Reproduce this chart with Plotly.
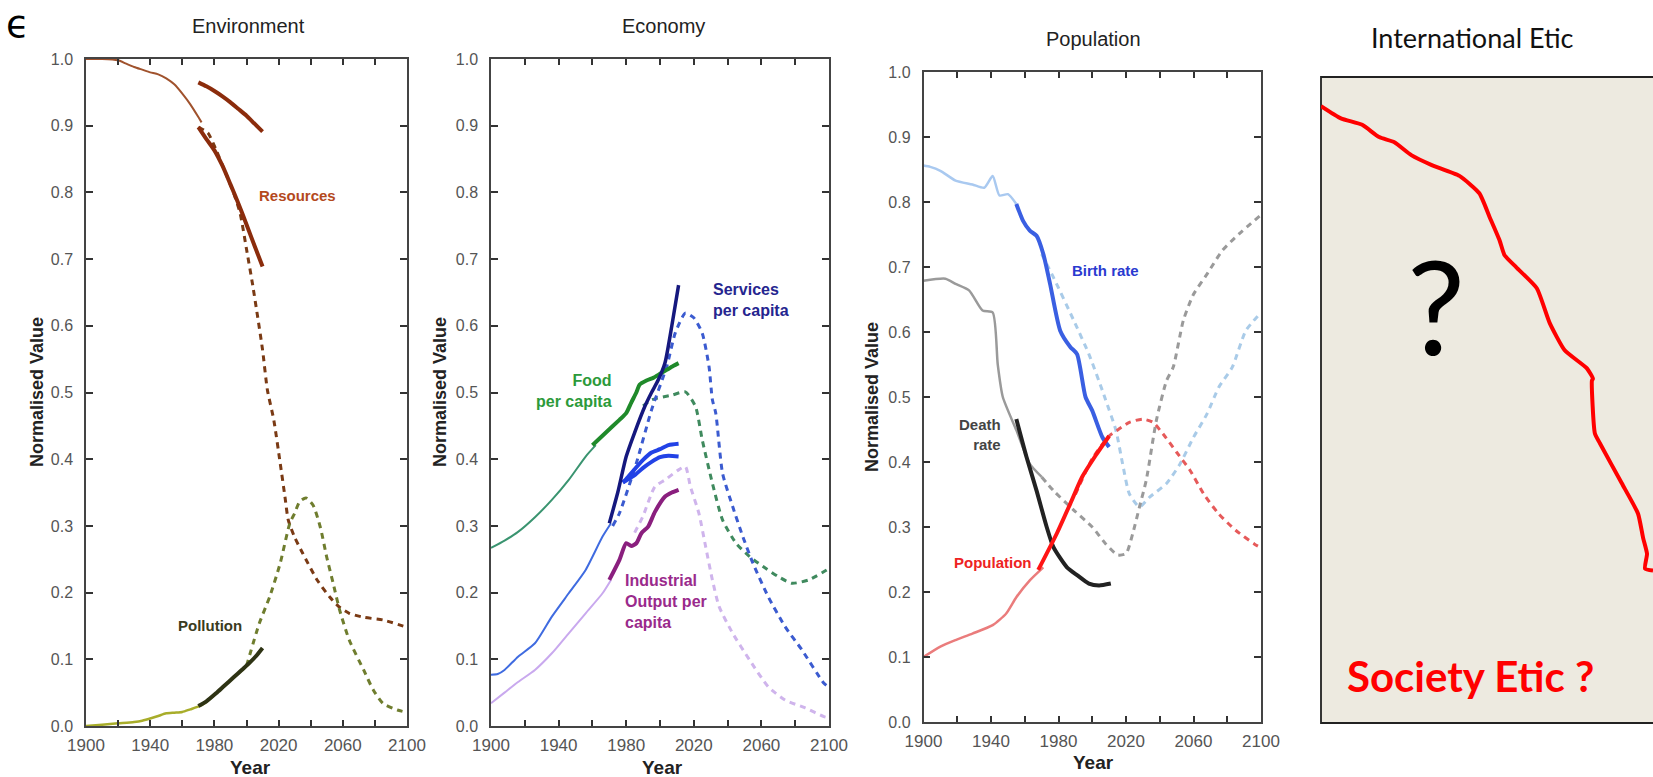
import plotly.graph_objects as go

W, H = 1653, 777

# ---------------- Environment ----------------
res_model_yr = [1900, 1910, 1920, 1925, 1930, 1935, 1940, 1945, 1950, 1955, 1960, 1965, 1970, 1972]
res_model_v = [1.0, 1.0, 0.998, 0.993, 0.988, 0.984, 0.98, 0.977, 0.971, 0.962, 0.948, 0.932, 0.913, 0.905]
res_dataA_yr = [1970, 1975, 1980, 1985, 1990, 1995, 2000, 2005, 2010]
res_dataA_v = [0.965, 0.959, 0.952, 0.944, 0.935, 0.925, 0.915, 0.903, 0.891]
res_dataB_yr = [1970, 1975, 1980, 1985, 1990, 1995, 2000, 2005, 2010]
res_dataB_v = [0.898, 0.88, 0.863, 0.84, 0.812, 0.783, 0.752, 0.72, 0.689]
res_proj_yr = [1970, 1976, 1981, 1986, 1992, 1996, 2000, 2004, 2010, 2013, 2017, 2021, 2024, 2026, 2030,
               2035, 2044, 2052, 2058, 2064, 2073, 2085, 2100]
res_proj_v = [0.898, 0.889, 0.864, 0.835, 0.799, 0.769, 0.715, 0.659, 0.564, 0.504, 0.459, 0.394, 0.343,
              0.309, 0.283, 0.259, 0.219, 0.193, 0.178, 0.169, 0.163, 0.159, 0.148]
pol_model_yr = [1900, 1910, 1920, 1930, 1935, 1941, 1945, 1950, 1955, 1960, 1965, 1971, 1976, 1981, 1986, 1992, 1997, 2002]
pol_model_v = [0.0, 0.002, 0.004, 0.006, 0.008, 0.012, 0.015, 0.019, 0.02, 0.021, 0.025, 0.03, 0.038, 0.049,
               0.06, 0.073, 0.083, 0.094]
pol_data_yr = [1970, 1975, 1981, 1986, 1992, 1997, 2002, 2006, 2010]
pol_data_v = [0.03, 0.037, 0.049, 0.06, 0.073, 0.084, 0.095, 0.105, 0.117]
pol_proj_yr = [2000, 2008, 2014.5, 2021, 2027, 2030, 2033, 2037, 2041.5, 2046, 2050, 2054, 2058, 2064,
               2073, 2079, 2085, 2094, 2099]
pol_proj_v = [0.09, 0.154, 0.194, 0.244, 0.304, 0.319, 0.336, 0.342, 0.331, 0.298, 0.253, 0.214, 0.174,
              0.129, 0.084, 0.054, 0.034, 0.024, 0.021]

# ---------------- Economy ----------------
food_model_yr = [1900, 1908, 1916, 1926, 1936, 1946, 1956, 1962]
food_model_v = [0.267, 0.278, 0.291, 0.313, 0.339, 0.369, 0.404, 0.421]
food_data_yr = [1960, 1968, 1976, 1980, 1983, 1986, 1988, 1992, 1996, 2000, 2004, 2008, 2011]
food_data_v = [0.421, 0.44, 0.459, 0.469, 0.485, 0.5, 0.512, 0.518, 0.522, 0.528, 0.534, 0.54, 0.544]
food_proj_yr = [1990, 1995, 2007, 2015, 2021, 2025, 2031, 2037, 2045, 2053, 2061, 2070, 2078, 2088, 2100]
food_proj_v = [0.48, 0.489, 0.496, 0.501, 0.479, 0.429, 0.364, 0.309, 0.274, 0.254, 0.239, 0.224, 0.214,
               0.219, 0.236]
svc_model_yr = [1900, 1904, 1908, 1916, 1926, 1936, 1946, 1956, 1966, 1971]
svc_model_v = [0.077, 0.078, 0.084, 0.104, 0.124, 0.164, 0.199, 0.234, 0.284, 0.304]
svc_data_yr = [1970, 1975, 1980, 1985, 1991, 1995, 1999, 2003, 2007, 2011]
svc_data_v = [0.304, 0.35, 0.404, 0.44, 0.479, 0.5, 0.519, 0.545, 0.6, 0.661]
svc_proj_yr = [1972, 1976, 1986, 1995, 2004, 2009, 2015, 2020, 2025, 2029, 2031, 2033, 2037, 2043, 2049,
               2055, 2064, 2074, 2084, 2097, 2100]
svc_proj_v = [0.3, 0.319, 0.394, 0.474, 0.539, 0.589, 0.619, 0.612, 0.589, 0.539, 0.489, 0.469, 0.379,
              0.329, 0.284, 0.244, 0.194, 0.149, 0.114, 0.064, 0.058]
svc_alt_yr = [1978, 1980, 1985, 1990, 1995, 2000, 2005, 2011]
svc_altA_v = [0.365, 0.368, 0.376, 0.387, 0.396, 0.403, 0.405, 0.404]
svc_altB_v = [0.365, 0.37, 0.385, 0.399, 0.41, 0.415, 0.421, 0.423]
ind_model_yr = [1900, 1908, 1916, 1926, 1936, 1946, 1956, 1966, 1971]
ind_model_v = [0.034, 0.05, 0.066, 0.084, 0.109, 0.139, 0.169, 0.199, 0.219]
ind_data_yr = [1970, 1976, 1980, 1983, 1986, 1989, 1993, 1997, 2003, 2007, 2011]
ind_data_v = [0.219, 0.249, 0.274, 0.27, 0.274, 0.289, 0.299, 0.321, 0.344, 0.35, 0.354]
ind_proj_yr = [1985, 1990, 1997, 2003, 2011, 2015, 2018, 2023, 2027, 2031, 2035, 2043, 2053, 2064, 2074,
               2086, 2097, 2100]
ind_proj_v = [0.29, 0.315, 0.359, 0.369, 0.384, 0.389, 0.359, 0.319, 0.269, 0.219, 0.179, 0.139, 0.099,
              0.059, 0.039, 0.027, 0.014, 0.012]

# ---------------- Population ----------------
birth_model_yr = [1900, 1904, 1910, 1919, 1929, 1936, 1941, 1945, 1950, 1955]
birth_model_v = [0.856, 0.854, 0.848, 0.833, 0.827, 0.822, 0.84, 0.81, 0.812, 0.797]
birth_data_yr = [1955, 1959, 1963, 1967, 1971, 1975, 1981, 1987, 1991, 1996, 2000, 2006, 2010]
birth_data_v = [0.797, 0.771, 0.756, 0.748, 0.72, 0.674, 0.602, 0.577, 0.566, 0.5, 0.479, 0.438, 0.423]
birth_proj_yr = [1970, 1977, 1989, 1998, 2006, 2008, 2014, 2018, 2022, 2028, 2034, 2044, 2052, 2060, 2068,
                 2075, 2083, 2091, 2100]
birth_proj_v = [0.72, 0.684, 0.618, 0.566, 0.51, 0.495, 0.449, 0.397, 0.351, 0.331, 0.346, 0.367, 0.397,
                0.438, 0.474, 0.515, 0.546, 0.602, 0.63]
death_model_yr = [1900, 1913, 1919, 1927, 1935, 1941, 1944, 1947, 1955, 1963, 1970]
death_model_v = [0.679, 0.682, 0.674, 0.664, 0.633, 0.63, 0.55, 0.5, 0.449, 0.397, 0.377]
death_data_yr = [1955, 1961, 1967, 1973, 1977, 1985, 1991, 1998, 2004, 2011]
death_data_v = [0.466, 0.408, 0.356, 0.3, 0.269, 0.238, 0.226, 0.213, 0.21, 0.213]
death_proj_yr = [1970, 1977, 1989, 2000, 2008, 2015, 2020, 2024, 2028, 2032, 2038, 2044, 2048, 2054, 2060,
                 2068, 2077, 2087, 2100]
death_proj_v = [0.377, 0.356, 0.326, 0.3, 0.274, 0.257, 0.259, 0.29, 0.331, 0.372, 0.464, 0.525, 0.546,
                0.618, 0.658, 0.689, 0.725, 0.751, 0.78]
pop_model_yr = [1900, 1910, 1919, 1929, 1941, 1949, 1955, 1963, 1971]
pop_model_v = [0.1, 0.116, 0.126, 0.136, 0.149, 0.167, 0.192, 0.218, 0.238]
pop_data_yr = [1968, 1979, 1987, 1994, 2002, 2010]
pop_data_v = [0.234, 0.29, 0.336, 0.377, 0.41, 0.44]
pop_proj_yr = [1990, 2000, 2010, 2016, 2022, 2030, 2036, 2042, 2050, 2058, 2066, 2075, 2085, 2096, 2100]
pop_proj_v = [0.35, 0.405, 0.44, 0.451, 0.461, 0.466, 0.461, 0.443, 0.415, 0.387, 0.351, 0.32, 0.295,
              0.274, 0.268]

# ---------------- International Etic (hand-drawn curve, box units 0..1) ----------------
etic_x = [0.0, 0.060, 0.124, 0.175, 0.221, 0.272, 0.332, 0.417, 0.477, 0.508, 0.538, 0.553, 0.589, 0.650,
          0.689, 0.734, 0.801, 0.819, 0.816, 0.825, 0.840, 0.906, 0.955, 0.970, 0.982, 0.976, 1.0]
etic_y = [0.955, 0.936, 0.926, 0.907, 0.899, 0.879, 0.864, 0.847, 0.820, 0.783, 0.747, 0.724, 0.705, 0.673,
          0.619, 0.577, 0.549, 0.533, 0.530, 0.448, 0.433, 0.371, 0.324, 0.287, 0.262, 0.239, 0.236]

year_ticks = [1900, 1920, 1940, 1960, 1980, 2000, 2020, 2040, 2060, 2080, 2100]
year_labels = ["1900", "", "1940", "", "1980", "", "2020", "", "2060", "", "2100"]
val_ticks = [0.0, 0.1, 0.2, 0.3, 0.4, 0.5, 0.6, 0.7, 0.8, 0.9, 1.0]

FONT = "Liberation Sans, Arial, sans-serif"
CAL = "Lato, Carlito, sans-serif"

fig = go.Figure()


def px_x(p):
    return p / W


def px_y(p):
    return 1 - p / H


panels = {
    1: dict(x0=86, x1=407, ytop=59, ybot=726),
    2: dict(x0=491, x1=829, ytop=59, ybot=726),
    3: dict(x0=923.5, x1=1261, ytop=72, ybot=722),
}


def line(n, xs, ys, color, width, dash="solid"):
    xa = "x" if n == 1 else f"x{n}"
    ya = "y" if n == 1 else f"y{n}"
    fig.add_trace(go.Scatter(x=xs, y=ys, mode="lines", xaxis=xa, yaxis=ya,
                             line=dict(color=color, width=width, dash=dash, shape="spline", smoothing=0.6),
                             showlegend=False, hoverinfo="skip"))


DASH = "6px,5px"

# Environment
line(1, res_proj_yr, res_proj_v, "#7a3a14", 3, DASH)
line(1, res_model_yr, res_model_v, "#a0522d", 2)
line(1, res_dataA_yr, res_dataA_v, "#8b2c0c", 4)
line(1, res_dataB_yr, res_dataB_v, "#8b2c0c", 4)
line(1, pol_proj_yr, pol_proj_v, "#6f7d2e", 3, DASH)
line(1, pol_model_yr, pol_model_v, "#a8ad2a", 2.5)
line(1, pol_data_yr, pol_data_v, "#2e3314", 4)

# Economy
line(2, food_proj_yr, food_proj_v, "#3f8a5e", 3, DASH)
line(2, svc_proj_yr, svc_proj_v, "#3b5bd0", 3, DASH)
line(2, ind_proj_yr, ind_proj_v, "#cfb4ec", 3, DASH)
line(2, food_model_yr, food_model_v, "#3a9470", 2)
line(2, svc_model_yr, svc_model_v, "#3f6be0", 2)
line(2, ind_model_yr, ind_model_v, "#c9a9ee", 2)
line(2, food_data_yr, food_data_v, "#1f8a2a", 4)
line(2, ind_data_yr, ind_data_v, "#8a1f7e", 4)
line(2, svc_alt_yr, svc_altA_v, "#2242e6", 4)
line(2, svc_alt_yr, svc_altB_v, "#2242e6", 4)
line(2, svc_data_yr, svc_data_v, "#15187e", 3.5)

# Population
line(3, birth_proj_yr, birth_proj_v, "#a9cbe8", 3, DASH)
line(3, death_proj_yr, death_proj_v, "#9a9a9a", 3, DASH)
line(3, pop_proj_yr, pop_proj_v, "#e65a5a", 3, DASH)
line(3, birth_model_yr, birth_model_v, "#a9c9f0", 2.5)
line(3, death_model_yr, death_model_v, "#9a9a9a", 2.5)
line(3, pop_model_yr, pop_model_v, "#ea7c7c", 2.5)
line(3, birth_data_yr, birth_data_v, "#3a5fe2", 4)
line(3, death_data_yr, death_data_v, "#222222", 4)
line(3, pop_data_yr, pop_data_v, "#ff1414", 4)

# International Etic curve
fig.add_trace(go.Scatter(x=etic_x, y=etic_y, mode="lines", xaxis="x4", yaxis="y4",
                         line=dict(color="#ff0000", width=4, shape="spline", smoothing=0.5),
                         showlegend=False, hoverinfo="skip"))

layout = dict(template="none", width=W, height=H, margin=dict(l=0, r=0, t=0, b=0, pad=0, autoexpand=False),
              paper_bgcolor="white", plot_bgcolor="rgba(0,0,0,0)", showlegend=False)

for n, g in panels.items():
    sx = "" if n == 1 else str(n)
    layout[f"xaxis{sx}"] = dict(domain=[px_x(g["x0"]), px_x(g["x1"])], range=[1900, 2100],
                                anchor=f"y{sx}", tickvals=year_ticks, ticktext=year_labels,
                                ticks="inside", ticklen=6, tickwidth=1.5, tickcolor="#333",
                                showline=True, linecolor="#444", linewidth=1.5, mirror="ticks",
                                showgrid=False, zeroline=False, fixedrange=True, automargin=False,
                                tickfont=dict(family=FONT, size=17, color="#555"),
                                ticklabelstandoff=3)
    layout[f"yaxis{sx}"] = dict(domain=[px_y(g["ybot"]), px_y(g["ytop"])], range=[0, 1],
                                anchor=f"x{sx}", tickvals=val_ticks, tickformat=".1f",
                                ticks="inside", ticklen=7, tickwidth=1.5, tickcolor="#333",
                                showline=True, linecolor="#444", linewidth=1.5, mirror="ticks",
                                showgrid=False, zeroline=False, fixedrange=True, automargin=False,
                                tickfont=dict(family=FONT, size=16, color="#555"),
                                ticklabelstandoff=8)

layout["xaxis4"] = dict(domain=[px_x(1321), 1.0], range=[0, 1], anchor="y4", visible=False,
                        fixedrange=True, automargin=False)
layout["yaxis4"] = dict(domain=[px_y(723), px_y(77)], range=[0, 1], anchor="x4", visible=False,
                        fixedrange=True, automargin=False)

layout["shapes"] = [dict(type="rect", xref="paper", yref="paper", x0=px_x(1321), x1=1.02,
                         y0=px_y(723), y1=px_y(77), fillcolor="#edeae0",
                         line=dict(color="#222", width=1.8), layer="below")]

ann = []


def paper_text(text, xp, yp, size, color="#222", bold=False, family=FONT, angle=0, xanchor="center"):
    ann.append(dict(text=f"<b>{text}</b>" if bold else text, x=px_x(xp), y=px_y(yp), xref="paper",
                    yref="paper", showarrow=False, xanchor=xanchor, yanchor="middle", textangle=angle,
                    font=dict(family=family, size=size, color=color)))


def data_text(n, text, xv, yv, size, color, xanchor="center", align="center"):
    sx = "" if n == 1 else str(n)
    ann.append(dict(text=f"<b>{text}</b>", x=xv, y=yv, xref=f"x{sx}", yref=f"y{sx}", showarrow=False,
                    xanchor=xanchor, yanchor="middle", align=align,
                    font=dict(family=FONT, size=size, color=color)))


# panel titles
paper_text("Environment", 248, 26, 20)
paper_text("Economy", 663, 26, 20)
paper_text("Population", 1093, 39, 20)
paper_text("International Etic", 1472, 38, 27, color="#111", family=CAL)
paper_text("ϵ", 17, 24, 38, color="#000", family="DejaVu Sans, sans-serif")

# axis titles
for xc, yc in ((37, 392), (440, 392), (872, 397)):
    paper_text("Normalised Value", xc, yc, 18, bold=True, angle=-90)
paper_text("Year", 250, 767, 19, bold=True)
paper_text("Year", 662, 767, 19, bold=True)
paper_text("Year", 1093, 762, 19, bold=True)

# series labels
data_text(1, "Resources", 2032, 0.796, 15, "#b4491d")
data_text(1, "Pollution", 1977, 0.151, 15, "#3a3b20")
data_text(2, "Food<br>per capita", 1972.5, 0.502, 16, "#2c9a3a", xanchor="right", align="right")
data_text(2, "Services<br>per capita", 2030, 0.639, 16, "#25258f", xanchor="left", align="left")
data_text(2, "Industrial<br>Output per<br>capita", 1978, 0.186, 16, "#9a2a8c", xanchor="left", align="left")
data_text(3, "Birth rate", 2008, 0.694, 15, "#2a3ad0")
data_text(3, "Death<br>rate", 1947, 0.442, 15, "#444444", xanchor="right", align="right")
data_text(3, "Population", 1941, 0.245, 15, "#ee2222")

# International Etic texts
paper_text("?", 1436, 305, 130, color="#000", family=CAL)
paper_text("<b>Society Etic ?</b>", 1470, 676, 42, color="#ff0000", family=CAL)

layout["annotations"] = ann
fig.update_layout(**layout)
fig.write_html("out.html", config={"displayModeBar": False},
               post_script="document.body.style.margin='0px';document.body.style.overflow='hidden';")
